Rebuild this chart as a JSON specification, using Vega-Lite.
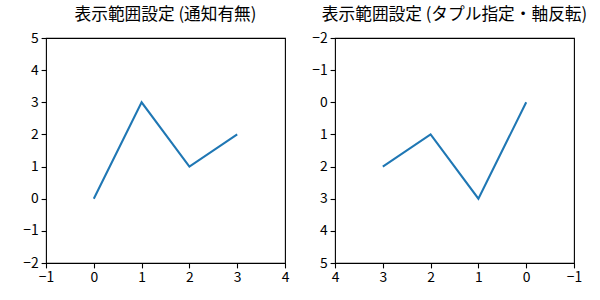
{
  "$schema": "https://vega.github.io/schema/vega-lite/v6.json",
  "padding": {"left": 22, "top": 6, "right": 5, "bottom": 5},
  "background": "white",
  "spacing": 50,
  "bounds": "flush",
  "data": {"values": [
    {"x": 0, "y": 0},
    {"x": 1, "y": 3},
    {"x": 2, "y": 1},
    {"x": 3, "y": 2}
  ]},
  "config": {
    "font": "Noto Sans CJK JP",
    "view": {"stroke": "black", "strokeWidth": 1.1},
    "axis": {
      "grid": false,
      "domain": false,
      "labelFont": "Noto Sans CJK JP",
      "labelFontSize": 13.9,
      "labelColor": "black",
      "tickColor": "black",
      "tickSize": 4.9,
      "tickWidth": 1.1,
      "labelPadding": 3,
      "title": null
    },
    "title": {"font": "Noto Sans CJK JP", "fontSize": 16.7, "fontWeight": "normal", "color": "black", "offset": 7}
  },
  "hconcat": [
    {
      "title": "表示範囲設定 (通知有無)",
      "width": 239,
      "height": 225,
      "mark": {"type": "line", "color": "#1f77b4", "strokeWidth": 2.08},
      "encoding": {
        "x": {"field": "x", "type": "quantitative", "scale": {"domain": [-1, 4], "nice": false, "zero": false},
              "axis": {"values": [-1, 0, 1, 2, 3, 4], "labelExpr": "replace(datum.label, '-', '−')", "labelFlush": false}},
        "y": {"field": "y", "type": "quantitative", "scale": {"domain": [-2, 5], "nice": false, "zero": false},
              "axis": {"values": [-2, -1, 0, 1, 2, 3, 4, 5], "labelExpr": "replace(datum.label, '-', '−')", "labelFlush": false}}
      }
    },
    {
      "title": "表示範囲設定 (タプル指定・軸反転)",
      "width": 239,
      "height": 225,
      "mark": {"type": "line", "color": "#1f77b4", "strokeWidth": 2.08},
      "encoding": {
        "x": {"field": "x", "type": "quantitative", "scale": {"domain": [-1, 4], "nice": false, "zero": false, "reverse": true},
              "axis": {"values": [-1, 0, 1, 2, 3, 4], "labelExpr": "replace(datum.label, '-', '−')", "labelFlush": false}},
        "y": {"field": "y", "type": "quantitative", "scale": {"domain": [-2, 5], "nice": false, "zero": false, "reverse": true},
              "axis": {"values": [-2, -1, 0, 1, 2, 3, 4, 5], "labelExpr": "replace(datum.label, '-', '−')", "labelFlush": false}}
      }
    }
  ]
}
